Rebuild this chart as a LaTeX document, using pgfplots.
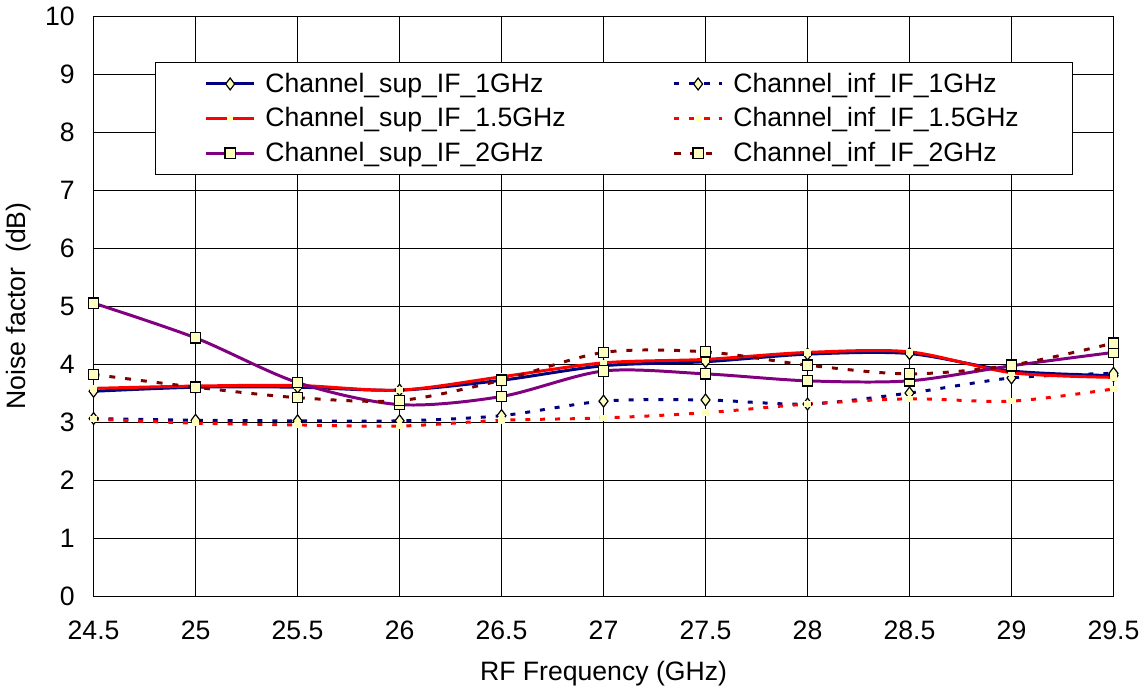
\documentclass[border=0pt]{standalone}
\usepackage{pgfplots}
\pgfplotsset{compat=1.18}
\usepackage{fontspec}
\setmainfont{Liberation Sans}

\definecolor{supblue}{RGB}{0,0,128}
\definecolor{supred}{RGB}{255,0,0}
\definecolor{suppurple}{RGB}{128,0,128}
\definecolor{infbrown}{RGB}{128,0,0}
\definecolor{mkfill}{RGB}{255,255,192}

\begin{document}
\begin{tikzpicture}
\begin{axis}[
    scale only axis,
    width=513.5pt, height=292pt,
    xmin=24.5, xmax=29.5, ymin=0, ymax=10,
    xtick distance=0.5, ytick distance=1,
    grid=major,
    major grid style={black, line width=0.5pt},
    axis line style={black, line width=0.5pt},
    tick style={draw=none},
    font=\fontsize{13.4}{15}\selectfont,
    /pgf/number format/assume math mode=true,
    xticklabel style={/pgf/number format/fixed, yshift=-9pt},
    yticklabel style={xshift=-6pt},
    xlabel={RF Frequency (GHz)},
    ylabel={Noise factor\ \ (dB)},
    xlabel style={yshift=-4pt},
    legend columns=2,
    legend cell align=left,
    legend style={at={(0.06,0.92)}, anchor=north west, draw=black, line width=0.5pt,
        fill=white, font=\fontsize{13.4}{15}\selectfont,
        inner xsep=25pt, inner ysep=3pt, row sep=2.2pt,
        /tikz/every even column/.append style={column sep=52pt},
        /tikz/every odd column/.append style={column sep=3pt}},
    legend image code/.code={\draw[mark repeat=2,mark phase=2,#1]
        plot coordinates {(0cm,0cm) (0.42cm,0cm) (0.84cm,0cm)};},
    every axis plot/.append style={smooth, tension=0.5},
]
% Channel_sup_IF_1GHz
\addplot[supblue, line width=1.5pt, mark=diamond*, mark size=3pt,
    mark options={fill=mkfill, draw=black, line width=0.6pt, solid}] coordinates {
    (24.5,3.53) (25,3.60) (25.5,3.60) (26,3.55) (26.5,3.72) (27,3.97)
    (27.5,4.04) (28,4.17) (28.5,4.18) (29,3.88) (29.5,3.80)};
\addlegendentry{Channel\_sup\_IF\_1GHz}
% Channel_inf_IF_1GHz
\addplot[supblue, line width=1.5pt, dash pattern=on 2.5pt off 5pt, mark=diamond*, mark size=3pt,
    mark options={fill=mkfill, draw=black, line width=0.6pt, solid}] coordinates {
    (24.5,3.06) (25,3.03) (25.5,3.02) (26,3.02) (26.5,3.11) (27,3.36)
    (27.5,3.38) (28,3.31) (28.5,3.50) (29,3.76) (29.5,3.84)};
\addlegendentry{Channel\_inf\_IF\_1GHz}
% Channel_sup_IF_1.5GHz
\addplot[supred, line width=1.5pt, mark=square*, mark size=0.9pt,
    mark options={fill=mkfill, draw=mkfill, solid}] coordinates {
    (24.5,3.58) (25,3.62) (25.5,3.63) (26,3.55) (26.5,3.78) (27,4.02)
    (27.5,4.08) (28,4.20) (28.5,4.21) (29,3.85) (29.5,3.77)};
\addlegendentry{Channel\_sup\_IF\_1.5GHz}
% Channel_inf_IF_1.5GHz
\addplot[supred, line width=1.5pt, dash pattern=on 2.5pt off 5pt, mark=square*, mark size=0.9pt,
    mark options={fill=mkfill, draw=mkfill, solid}] coordinates {
    (24.5,3.05) (25,2.98) (25.5,2.95) (26,2.93) (26.5,3.03) (27,3.07)
    (27.5,3.16) (28,3.31) (28.5,3.40) (29,3.36) (29.5,3.57)};
\addlegendentry{Channel\_inf\_IF\_1.5GHz}
% Channel_sup_IF_2GHz
\addplot[suppurple, line width=1.5pt, mark=square*, mark size=2.6pt,
    mark options={fill=mkfill, draw=black, line width=0.6pt, solid}] coordinates {
    (24.5,5.05) (25,4.45) (25.5,3.68) (26,3.30) (26.5,3.44) (27,3.88)
    (27.5,3.83) (28,3.71) (28.5,3.71) (29,3.97) (29.5,4.20)};
\addlegendentry{Channel\_sup\_IF\_2GHz}
% Channel_inf_IF_2GHz
\addplot[infbrown, line width=1.5pt, dash pattern=on 3pt off 5pt, mark=square*, mark size=2.6pt,
    mark options={fill=mkfill, draw=black, line width=0.6pt, solid}] coordinates {
    (24.5,3.82) (25,3.60) (25.5,3.42) (26,3.37) (26.5,3.72) (27,4.20)
    (27.5,4.21) (28,3.98) (28.5,3.83) (29,3.98) (29.5,4.36)};
\addlegendentry{Channel\_inf\_IF\_2GHz}
\end{axis}
\end{tikzpicture}
\end{document}
